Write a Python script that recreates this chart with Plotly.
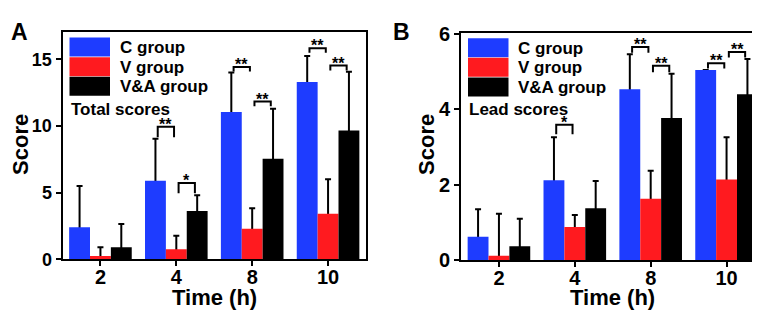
import plotly.graph_objects as go

W, H = 760, 316

times = ["2", "4", "8", "10"]
group_names = ["C group", "V group", "V&A group"]
group_colors = ["#1e3cff", "#ff1a1f", "#000000"]

# Panel A: total scores (mean and upward SD)
total_c = [2.40, 5.90, 11.05, 13.30]
total_c_err = [3.10, 3.15, 2.97, 1.95]
total_v = [0.25, 0.76, 2.29, 3.41]
total_v_err = [0.66, 1.00, 1.54, 2.59]
total_va = [0.90, 3.63, 7.54, 9.66]
total_va_err = [1.75, 1.17, 3.76, 4.41]

# Panel B: lead scores
lead_c = [0.62, 2.12, 4.53, 5.04]
lead_c_err = [0.73, 1.14, 0.93, None]
lead_v = [0.12, 0.88, 1.63, 2.14]
lead_v_err = [1.11, 0.32, 0.74, 1.12]
lead_va = [0.37, 1.38, 3.77, 4.40]
lead_va_err = [0.73, 0.72, 1.17, 0.93]

# significance brackets: (time index, pair, label, bracket level, leg end)
sig_a_time = [1, 1, 2, 2, 3, 3]
sig_a_pair = ["CV", "VA", "CV", "VA", "CV", "VA"]
sig_a_label = ["**", "*", "**", "**", "**", "**"]
sig_a_top = [9.95, 5.72, 14.42, 11.83, 15.83, 14.53]
sig_a_low = [9.15, 4.95, 14.08, 11.48, 15.50, 14.16]

sig_b_time = [1, 2, 2, 3, 3]
sig_b_pair = ["CV", "CV", "VA", "CV", "VA"]
sig_b_label = ["*", "**", "**", "**", "**"]
sig_b_top = [3.59, 5.65, 5.15, 5.22, 5.52]
sig_b_low = [3.34, 5.50, 4.98, 5.08, 5.37]

BARGAP = 0.175
BW = (1 - BARGAP) / 3
FONT = "Liberation Sans, Arial, sans-serif"


def fx(x):
    return x / W


def fy(y):
    return 1 - y / H


fig = go.Figure()

panels = [
    dict(x="x", y="y", yo="y3", means=[total_c, total_v, total_va],
         errs=[total_c_err, total_v_err, total_va_err],
         dom_x=(54.5, 358), dom_y=(15, 258.5), yr=[0, 17.05], dt=5, ytf=18,
         sig=(sig_a_time, sig_a_pair, sig_a_label, sig_a_top, sig_a_low),
         note="Total scores", letter="A", letter_x=11, title_x=13),
    dict(x="x2", y="y2", yo="y4", means=[lead_c, lead_v, lead_va],
         errs=[lead_c_err, lead_v_err, lead_va_err],
         dom_x=(453, 756.5), dom_y=(15.7, 259.5), yr=[0, 6.03], dt=2, ytf=20,
         sig=(sig_b_time, sig_b_pair, sig_b_label, sig_b_top, sig_b_low),
         note="Lead scores", letter="B", letter_x=393, title_x=419),
]

shapes = []
annotations = []

for p in panels:
    # error bars on base axis (drawn under the bars)
    for g in range(3):
        errs = p["errs"][g]
        minus = [m if e is not None else None for m, e in zip(p["means"][g], errs)]
        fig.add_trace(go.Bar(
            x=times, y=p["means"][g], name=group_names[g],
            marker=dict(color="rgba(0,0,0,0)", line=dict(width=0)),
            error_y=dict(type="data", symmetric=False, array=errs,
                         arrayminus=minus, color="black",
                         thickness=2, width=3),
            xaxis=p["x"], yaxis=p["y"], showlegend=False, hoverinfo="skip",
        ))
    # visible bars on overlaying axis
    for g in range(3):
        fig.add_trace(go.Bar(
            x=times, y=p["means"][g], name=group_names[g],
            marker=dict(color=group_colors[g], line=dict(width=0)),
            xaxis=p["x"], yaxis=p["yo"], showlegend=False,
        ))
    xref, yref = p["x"], p["y"]
    # significance brackets
    ts, pairs, labs, tops, lows = p["sig"]
    for t, pr, lab, top, low in zip(ts, pairs, labs, tops, lows):
        li, ri = (0, 1) if pr == "CV" else (1, 2)
        x0 = t + (li - 1) * BW + 0.03
        x1 = t + (ri - 1) * BW - 0.03
        shapes.append(dict(type="path", xref=xref, yref=yref,
                           path=f"M {x0},{low} L {x0},{top} L {x1},{top} L {x1},{low}",
                           line=dict(color="black", width=2)))
        annotations.append(dict(x=(x0 + x1) / 2, y=top, xref=xref, yref=yref,
                                text=lab, showarrow=False, yanchor="bottom",
                                yshift=-8,
                                font=dict(family=FONT, size=16, color="black", weight="bold")))
    # manual legend
    lx0 = p["dom_x"][0] + 7
    ly0 = p["dom_y"][0] + 6
    for g in range(3):
        y0 = ly0 + g * 21
        shapes.append(dict(type="rect", xref="paper", yref="paper",
                           x0=fx(lx0), x1=fx(lx0 + 40.5), y0=fy(y0), y1=fy(y0 + 20.3),
                           fillcolor=group_colors[g], line=dict(width=0)))
        annotations.append(dict(x=fx(lx0 + 48), y=fy(y0 + 10.5), xref="paper", yref="paper",
                                text=group_names[g], showarrow=False, xanchor="left",
                                yanchor="middle",
                                font=dict(family=FONT, size=17, color="black", weight="bold")))
    annotations.append(dict(x=fx(lx0 - 1), y=fy(97.5), xref="paper", yref="paper",
                            text=p["note"], showarrow=False, xanchor="left", yanchor="middle",
                            font=dict(family=FONT, size=17, color="black", weight="bold")))
    # panel letter
    annotations.append(dict(x=fx(p["letter_x"]), y=fy(14.5), xref="paper", yref="paper",
                            text=p["letter"], showarrow=False, xanchor="center", yanchor="middle",
                            font=dict(family=FONT, size=23, color="black", weight="bold")))
    # axis titles
    annotations.append(dict(x=fx(p["title_x"]), y=fy(136), xref="paper", yref="paper",
                            text="Score", showarrow=False, textangle=-90,
                            xanchor="center", yanchor="middle",
                            font=dict(family=FONT, size=22, color="black", weight="bold")))
    annotations.append(dict(x=fx(sum(p["dom_x"]) / 2), y=fy(299), xref="paper", yref="paper",
                            text="Time (h)", showarrow=False,
                            xanchor="center", yanchor="middle",
                            font=dict(family=FONT, size=22, color="black", weight="bold")))

axis_common = dict(showline=True, linecolor="black", linewidth=2, mirror=True,
                   ticks="outside", ticklen=5, tickwidth=2, tickcolor="black",
                   showgrid=False, zeroline=False)

layout_axes = {}
for i, p in enumerate(panels):
    sfx = "" if i == 0 else "2"
    osfx = "3" if i == 0 else "4"
    layout_axes["xaxis" + sfx] = dict(
        domain=[fx(p["dom_x"][0]), fx(p["dom_x"][1])], anchor="y" + sfx,
        type="category", categoryorder="array", categoryarray=times,
        range=[-0.5, len(times) - 0.5], ticklabelstandoff=-6,
        tickfont=dict(family=FONT, size=20, color="black", weight="bold"),
        **axis_common)
    layout_axes["yaxis" + sfx] = dict(
        domain=[fy(p["dom_y"][1]), fy(p["dom_y"][0])], anchor="x" + sfx,
        range=p["yr"], dtick=p["dt"], tick0=0,
        tickfont=dict(family=FONT, size=p["ytf"], color="black", weight="bold"),
        **axis_common)
    layout_axes["yaxis" + osfx] = dict(
        overlaying="y" + sfx, anchor="x" + sfx, range=p["yr"], visible=False,
        showgrid=False, zeroline=False)

fig.update_layout(
    width=W, height=H, margin=dict(l=0, r=0, t=0, b=0),
    paper_bgcolor="white", plot_bgcolor="white",
    barmode="group", bargap=BARGAP, bargroupgap=0,
    shapes=shapes, annotations=annotations,
    **layout_axes,
)

fig.write_html("out.html")
